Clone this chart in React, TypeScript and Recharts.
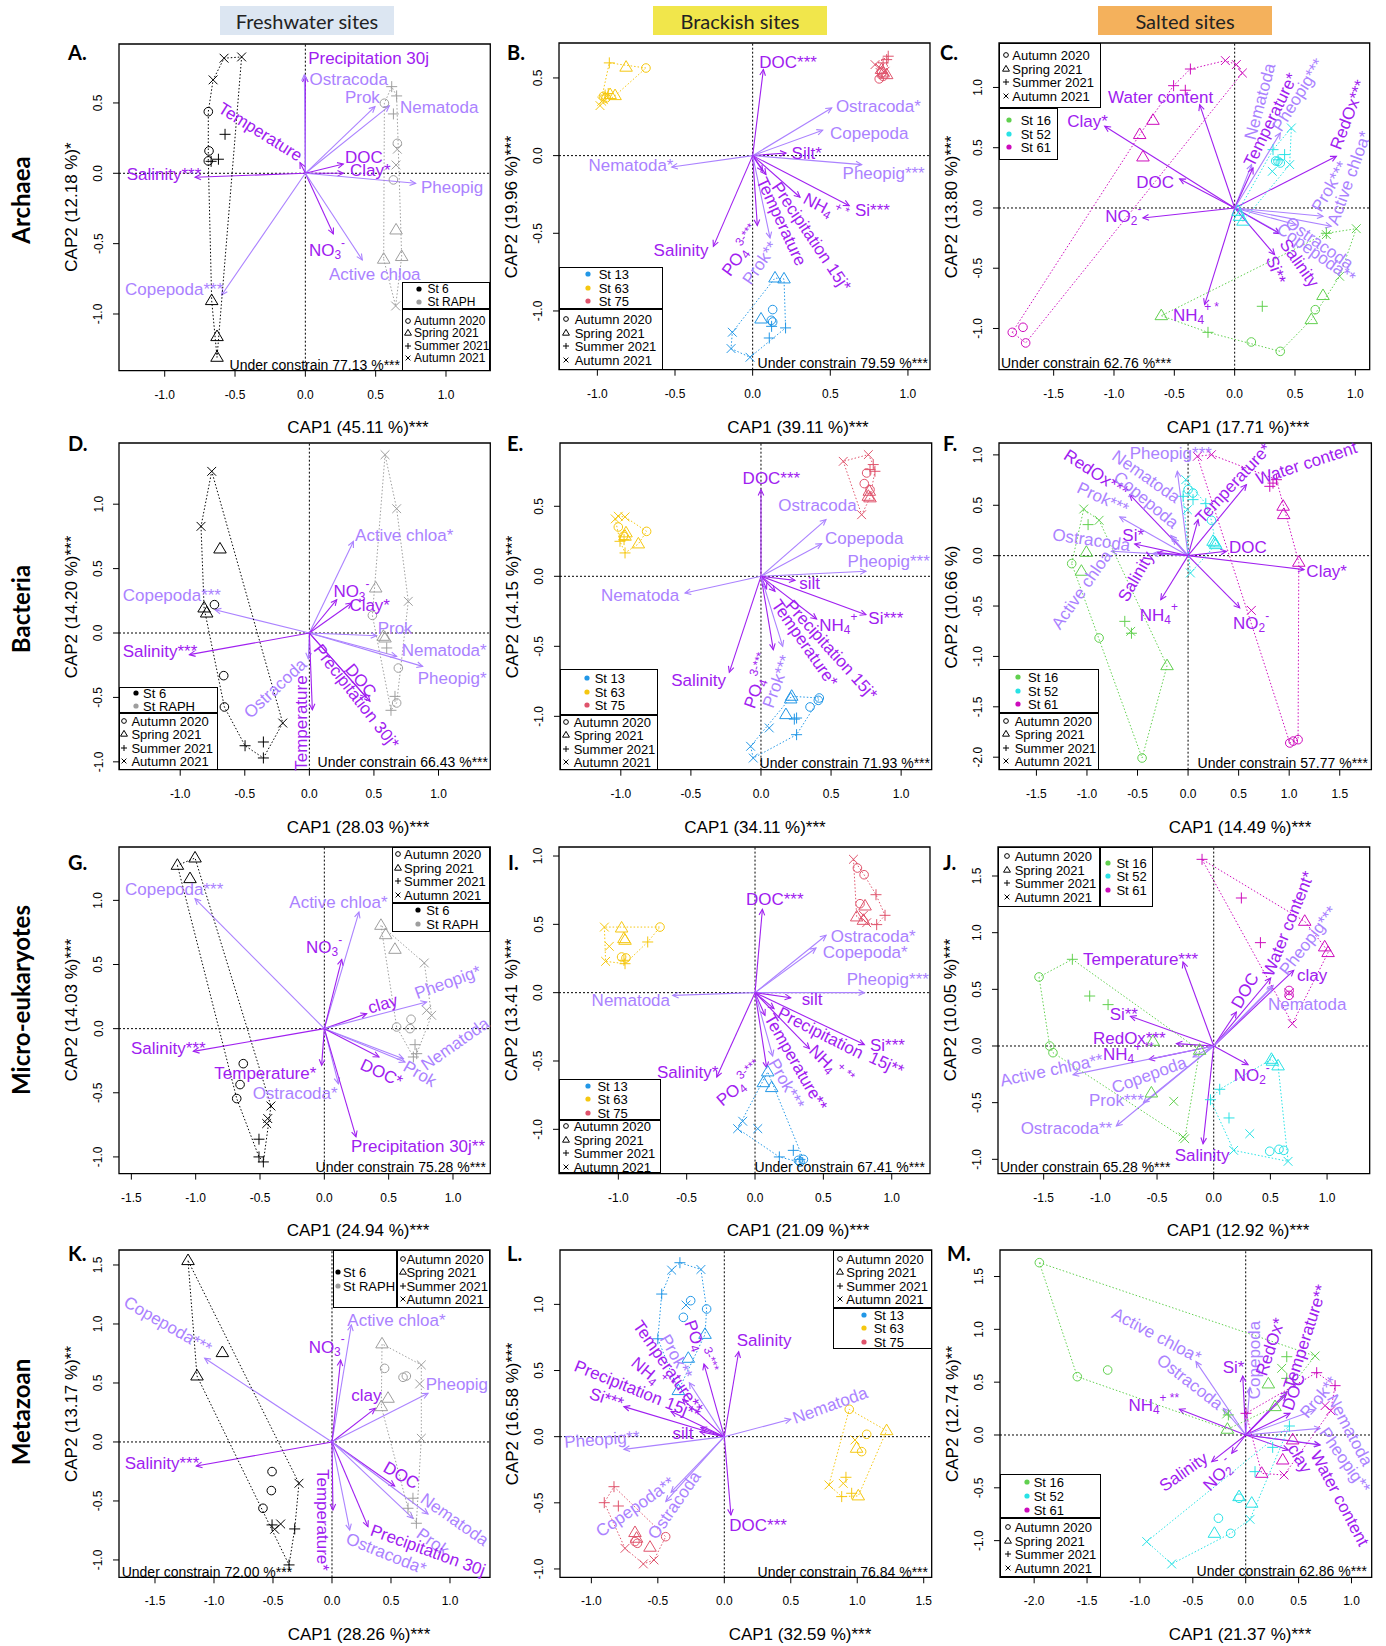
import React from 'react';
import { ScatterChart, Scatter, XAxis, YAxis, ReferenceLine, ReferenceDot, ReferenceArea } from 'recharts';

const FONT = '"Liberation Sans", Arial, Helvetica, sans-serif';
const DARK = '#A020F0';
const LIGHT = '#AB82FF';
const ST_COL: Record<string, string> = {
  '6': '#000000', RAPH: '#9E9E9E', '13': '#2297E6', '63': '#F5C710', '75': '#DF536B',
  '16': '#61D04F', '52': '#28E2E5', '61': '#CD0BBC',
};
const SEASONS = [['o', 'Autumn 2020'], ['t', 'Spring 2021'], ['p', 'Summer 2021'], ['x', 'Autumn 2021']];

// points: [CAP1, CAP2, station, season]  (o = autumn 2020, t = spring 2021, p = summer 2021, x = autumn 2021)
const aPoints = [
  [-0.578, 0.818, '6', 'x'], [-0.453, 0.827, '6', 'x'], [-0.656, 0.664, '6', 'x'],
  [-0.69, 0.438, '6', 'o'], [-0.685, 0.159, '6', 'o'], [-0.69, 0.088, '6', 'o'],
  [-0.571, 0.277, '6', 'p'], [-0.618, 0.1, '6', 'p'], [-0.67, 0.085, '6', 'p'],
  [-0.666, -0.905, '6', 't'], [-0.628, -1.161, '6', 't'], [-0.628, -1.308, '6', 't'],
  [0.614, 0.616, 'RAPH', 'p'], [0.649, 0.55, 'RAPH', 'p'], [0.626, 0.422, 'RAPH', 'p'],
  [0.562, 0.498, 'RAPH', 'o'], [0.654, 0.213, 'RAPH', 'o'], [0.626, -0.047, 'RAPH', 'o'],
  [0.654, 0.171, 'RAPH', 'x'], [0.645, 0.059, 'RAPH', 'x'], [0.642, -0.943, 'RAPH', 'x'],
  [0.645, -0.403, 'RAPH', 't'], [0.557, -0.611, 'RAPH', 't'], [0.685, -0.592, 'RAPH', 't'],
];
const aArrows = [
  [0, 0.69, 'd'], [-0.007, 0.7, 'l'], [0.495, 0.474, 'l'], [0.597, 0.479, 'l'], [-0.038, 0.076, 'd'],
  [0.27, 0.066, 'd'], [0.27, 0.0, 'd'], [0.784, -0.071, 'l'], [-0.784, -0.028, 'd'], [0.199, -0.431, 'd'],
  [0.405, -0.616, 'l'], [-0.595, -0.865, 'l'],
];
const aLabels = [
  ['Precipitation 30j', 0.02, 0.82, 0, 'd', 's'], ['Ostracoda', 0.03, 0.67, 0, 'l', 's'],
  ['Prok', 0.53, 0.54, 0, 'l', 'e'], ['Nematoda', 0.673, 0.47, 0, 'l', 's'],
  ['Temperature', -0.318, 0.296, 32, 'd', 'm'], ['DOC', 0.282, 0.118, 0, 'd', 's'],
  ['Clay*', 0.318, 0.024, 0, 'd', 's'], ['Pheopig', 0.822, -0.1, 0, 'l', 's'],
  ['Salinity***', -1.27, -0.005, 0, 'd', 's'], ['NO{3}[-]', 0.026, -0.545, 0, 'd', 's'],
  ['Active chloa', 0.168, -0.716, 0, 'l', 's'], ['Copepoda***', -1.282, -0.825, 0, 'l', 's'],
];

const bPoints = [
  [-0.923, 0.597, '63', 'p'], [-0.95, 0.39, '63', 'p'], [-0.93, 0.4, '63', 'p'],
  [-0.815, 0.569, '63', 't'], [-0.886, 0.386, '63', 't'], [-0.918, 0.393, '63', 't'],
  [-0.687, 0.564, '63', 'o'], [-0.961, 0.382, '63', 'o'], [-0.944, 0.371, '63', 'o'],
  [-0.983, 0.322, '63', 'x'], [-0.972, 0.35, '63', 'x'], [-0.961, 0.36, '63', 'x'],
  [0.873, 0.64, '75', 'p'], [0.863, 0.618, '75', 'p'], [0.84, 0.597, '75', 'p'],
  [0.788, 0.586, '75', 'x'], [0.82, 0.564, '75', 'x'], [0.852, 0.543, '75', 'x'],
  [0.84, 0.532, '75', 't'], [0.863, 0.521, '75', 't'], [0.83, 0.554, '75', 't'],
  [0.815, 0.494, '75', 'o'], [0.84, 0.51, '75', 'o'], [0.83, 0.532, '75', 'o'],
  [0.144, -0.788, '13', 't'], [0.202, -0.794, '13', 't'], [0.054, -1.052, '13', 't'],
  [0.129, -0.991, '13', 'o'], [0.129, -1.071, '13', 'o'], [0.12, -1.06, '13', 'o'],
  [0.122, -1.099, '13', 'p'], [0.212, -1.109, '13', 'p'], [0.107, -1.174, '13', 'p'],
  [-0.131, -1.137, '13', 'x'], [-0.139, -1.242, '13', 'x'], [-0.017, -1.298, '13', 'x'],
];
const bArrows = [
  [0.069, 0.554, 'd'], [0.509, 0.307, 'l'], [0.451, 0.163, 'l'], [0.215, 0.017, 'd'], [0.702, -0.058, 'l'],
  [-0.521, -0.073, 'l'], [0.622, -0.322, 'd'], [0.305, -0.268, 'd'], [0.086, -0.122, 'd'], [0.065, -0.1, 'd'],
  [0.03, -0.45, 'd'], [0.112, -0.53, 'l'], [-0.253, -0.584, 'd'],
];
const bLabels = [
  ['DOC***', 0.043, 0.6, 0, 'd', 's'], ['Ostracoda*', 0.536, 0.322, 0, 'l', 's'],
  ['Copepoda', 0.498, 0.146, 0, 'l', 's'], ['Silt*', 0.251, 0.017, 0, 'd', 's'],
  ['Pheopig***', 0.579, -0.112, 0, 'l', 's'], ['Nematoda*', -0.51, -0.06, 0, 'l', 'e'],
  ['Si***', 0.659, -0.348, 0, 'd', 's'], ['NH{4}[+ *]', 0.466, -0.337, 28, 'd', 'm'],
  ['Precipitation 15j*', 0.38, -0.52, 56, 'd', 'm'], ['Temperature', 0.187, -0.423, 65, 'd', 'm'],
  ['PO{4}[3-***]', -0.071, -0.616, -54, 'd', 'm'], ['Prok**', 0.047, -0.69, -55, 'l', 'm'],
  ['Salinity', -0.285, -0.605, 0, 'd', 'e'],
];

const cPoints = [
  [-0.077, 1.223, '61', 'x'], [0.014, 1.19, '61', 'x'], [0.064, 1.12, '61', 'x'],
  [-0.367, 1.153, '61', 'p'], [-0.506, 1.015, '61', 'p'], [-0.409, 0.977, '61', 'p'],
  [-0.677, 0.727, '61', 't'], [-0.787, 0.609, '61', 't'], [-0.76, 0.423, '61', 't'],
  [-1.843, -1.032, '61', 'o'], [-1.754, -0.99, '61', 'o'], [-1.732, -1.12, '61', 'o'],
  [0.47, 0.664, '52', 'x'], [0.312, 0.304, '52', 'x'], [0.456, 0.36, '52', 'x'],
  [0.318, 0.484, '52', 'p'], [0.414, 0.443, '52', 'p'], [0.36, 0.4, '52', 'p'],
  [0.359, 0.387, '52', 'o'], [0.378, 0.373, '52', 'o'], [0.34, 0.39, '52', 'o'],
  [0.069, -0.11, '52', 't'], [0.041, -0.07, '52', 't'], [0.028, -0.028, '52', 't'],
  [0.76, -0.221, '16', 'x'], [1.008, -0.172, '16', 'x'], [0.87, -0.567, '16', 'x'],
  [0.229, -0.816, '16', 'p'], [-0.221, -1.032, '16', 'p'], [0.76, -0.21, '16', 'p'],
  [0.668, -0.844, '16', 'o'], [0.138, -1.112, '16', 'o'], [0.378, -1.19, '16', 'o'],
  [0.732, -0.727, '16', 't'], [0.635, -0.927, '16', 't'], [-0.608, -0.894, '16', 't'],
];
const cArrows = [
  [-0.29, 0.857, 'd'], [-1.077, 0.678, 'd'], [-0.456, 0.241, 'd'], [-0.76, -0.083, 'd'], [-0.249, -0.802, 'd'],
  [0.14, 0.36, 'l'], [0.152, 0.332, 'd'], [0.378, 0.622, 'l'], [0.843, 0.429, 'd'], [0.732, -0.069, 'l'],
  [0.8, -0.152, 'l'], [0.51, -0.14, 'l'], [0.373, -0.207, 'l'], [0.373, -0.213, 'd'], [0.331, -0.387, 'd'],
];
const cLabels = [
  ['Water content', -1.049, 0.918, 0, 'd', 's'], ['Clay*', -1.387, 0.719, 0, 'd', 's'],
  ['DOC', -0.815, 0.213, 0, 'd', 's'], ['NO{2}[-]', -1.072, -0.069, 0, 'd', 's'],
  ['NH{4}[+ *]', -0.511, -0.885, 0, 'd', 's'], ['Nematoda', 0.207, 0.885, -75, 'l', 'm'],
  ['Temperature*', 0.296, 0.733, -64, 'd', 'm'], ['Pheopig***', 0.525, 0.94, -58, 'l', 'm'],
  ['RedOx***', 0.939, 0.775, -69, 'd', 'm'], ['Prok***', 0.787, 0.18, -60, 'l', 'm'],
  ['Active chloa*', 0.947, 0.249, -70, 'l', 'm'], ['Ostracoda', 0.704, -0.29, 35, 'l', 'm'],
  ['Copepoda**', 0.677, -0.373, 35, 'l', 'm'], ['Salinity', 0.539, -0.456, 55, 'd', 'm'],
  ['Si**', 0.345, -0.512, 70, 'd', 'm'],
];

const dPoints = [
  [-0.756, 1.255, '6', 'x'], [-0.839, 0.828, '6', 'x'], [-0.206, -0.699, '6', 'x'],
  [-0.692, 0.652, '6', 't'], [-0.815, 0.194, '6', 't'], [-0.795, 0.155, '6', 't'],
  [-0.735, 0.22, '6', 'o'], [-0.663, -0.331, '6', 'o'], [-0.658, -0.574, '6', 'o'],
  [-0.498, -0.875, '6', 'p'], [-0.356, -0.846, '6', 'p'], [-0.356, -0.97, '6', 'p'],
  [0.586, 1.384, 'RAPH', 'x'], [0.676, 0.965, 'RAPH', 'x'], [0.766, 0.246, 'RAPH', 'x'],
  [0.514, 0.349, 'RAPH', 't'], [0.573, -0.026, 'RAPH', 't'], [0.586, -0.039, 'RAPH', 't'],
  [0.488, 0.137, 'RAPH', 'o'], [0.689, -0.272, 'RAPH', 'o'], [0.676, -0.543, 'RAPH', 'o'],
  [0.599, -0.116, 'RAPH', 'p'], [0.663, -0.492, 'RAPH', 'p'], [0.632, -0.6, 'RAPH', 'p'],
];
const dArrows = [
  [0.341, 0.711, 'l'], [0.212, 0.259, 'd'], [0.328, 0.233, 'd'], [0.521, -0.021, 'l'], [0.676, -0.181, 'l'],
  [0.877, -0.259, 'l'], [-0.73, 0.181, 'l'], [-0.929, -0.168, 'd'], [-0.008, -0.2, 'l'], [0.023, -0.595, 'd'],
  [0.44, -0.5, 'd'], [0.47, -0.53, 'd'],
];
const dLabels = [
  ['Active chloa*', 0.354, 0.763, 0, 'l', 's'], ['NO{3}[-]', 0.186, 0.323, 0, 'd', 's'],
  ['Clay*', 0.31, 0.22, 0, 'd', 's'], ['Prok', 0.529, 0.039, 0, 'l', 's'],
  ['Nematoda*', 0.715, -0.129, 0, 'l', 's'], ['Pheopig*', 0.839, -0.349, 0, 'l', 's'],
  ['Copepoda***', -1.445, 0.292, 0, 'l', 's'], ['Salinity***', -1.445, -0.142, 0, 'd', 's'],
  ['Ostracoda', -0.266, -0.427, -43, 'l', 'm'], ['Temperature', -0.065, -0.699, -90, 'd', 'm'],
  ['DOC', 0.4, -0.367, 50, 'd', 'm'], ['Precipitation 30j*', 0.366, -0.492, 52, 'd', 'm'],
];

const ePoints = [
  [-1.018, 0.429, '63', 'x'], [-0.97, 0.424, '63', 'x'], [-1.04, 0.41, '63', 'x'],
  [-1.018, 0.352, '63', 'o'], [-0.816, 0.321, '63', 'o'], [-0.982, 0.286, '63', 'o'],
  [-0.963, 0.31, '63', 't'], [-0.97, 0.286, '63', 't'], [-0.875, 0.231, '63', 't'],
  [-0.977, 0.262, '63', 'p'], [-1.006, 0.25, '63', 'p'], [-0.97, 0.167, '63', 'p'],
  [0.587, 0.821, '75', 'x'], [0.766, 0.869, '75', 'x'], [0.718, 0.44, '75', 'x'],
  [0.801, 0.798, '75', 'p'], [0.813, 0.75, '75', 'p'], [0.778, 0.762, '75', 'p'],
  [0.754, 0.738, '75', 'o'], [0.737, 0.662, '75', 'o'], [0.778, 0.619, '75', 'o'],
  [0.773, 0.607, '75', 't'], [0.766, 0.571, '75', 't'], [0.778, 0.56, '75', 't'],
  [0.219, -0.857, '13', 't'], [0.212, -0.876, '13', 't'], [0.178, -0.988, '13', 't'],
  [0.416, -0.869, '13', 'o'], [0.409, -0.886, '13', 'o'], [0.35, -0.933, '13', 'o'],
  [0.254, -1.012, '13', 'p'], [0.254, -1.131, '13', 'p'], [0.238, -1.02, '13', 'p'],
  [0.059, -1.083, '13', 'x'], [-0.074, -1.214, '13', 'x'], [-0.055, -1.298, '13', 'x'],
];
const eArrows = [
  [0, 0.619, 'd'], [0.464, 0.405, 'l'], [0.433, 0.233, 'l'], [0.749, 0.036, 'l'], [0.243, -0.029, 'd'],
  [0.749, -0.274, 'd'], [0.397, -0.305, 'd'], [-0.542, -0.119, 'l'], [0.1, -0.107, 'd'], [0.04, -0.09, 'd'],
  [0.088, -0.524, 'd'], [0.155, -0.5, 'l'], [-0.226, -0.686, 'd'],
];
const eLabels = [
  ['DOC***', -0.131, 0.702, 0, 'd', 's'], ['Ostracoda', 0.124, 0.512, 0, 'l', 's'],
  ['Copepoda', 0.457, 0.274, 0, 'l', 's'], ['Pheopig***', 0.618, 0.107, 0, 'l', 's'],
  ['silt', 0.273, -0.048, 0, 'd', 's'], ['Si***', 0.766, -0.298, 0, 'd', 's'],
  ['NH{4}[+]', 0.416, -0.345, 0, 'd', 's'], ['Nematoda', -0.583, -0.131, 0, 'l', 'e'],
  ['Precipitation 15j*', 0.504, -0.524, 48, 'd', 'm'], ['Temperature*', 0.314, -0.476, 55, 'd', 'm'],
  ['PO{4}[3-***]', -0.019, -0.75, -70, 'd', 'm'], ['Prok***', 0.112, -0.75, -70, 'l', 'm'],
  ['Salinity', -0.25, -0.738, 0, 'd', 'e'],
];

const fPoints = [
  [0.092, 0.986, '61', 'x'], [0.231, 1.002, '61', 'x'], [0.626, -0.543, '61', 'x'],
  [0.808, 0.688, '61', 'p'], [0.874, 0.754, '61', 'p'], [0.84, 0.72, '61', 'p'],
  [0.94, 0.49, '61', 't'], [0.946, 0.407, '61', 't'], [1.095, -0.066, '61', 't'],
  [1.006, -1.859, '61', 'o'], [1.088, -1.826, '61', 'o'], [1.04, -1.84, '61', 'o'],
  [-0.023, 0.754, '52', 'x'], [-0.007, 0.456, '52', 'x'], [0.023, -0.172, '52', 'x'],
  [0, 0.655, '52', 'o'], [0.049, 0.622, '52', 'o'], [0.231, 0.351, '52', 'o'],
  [-0.049, 0.589, '52', 'p'], [0.049, 0.556, '52', 'p'], [0.175, 0.516, '52', 'p'],
  [0.264, 0.126, '52', 't'], [0.274, 0.109, '52', 't'], [0.247, 0.142, '52', 't'],
  [-1.032, 0.463, '16', 'x'], [-0.88, 0.351, '16', 'x'], [-0.567, -0.751, '16', 'x'],
  [-0.989, 0.308, '16', 'p'], [-0.626, -0.652, '16', 'p'], [-0.56, -0.77, '16', 'p'],
  [-1.006, 0.033, '16', 't'], [-1.055, -0.155, '16', 't'], [-0.208, -1.092, '16', 't'],
  [-1.151, -0.079, '16', 'o'], [-0.88, -0.817, '16', 'o'], [-0.455, -2.008, '16', 'o'],
];
const fArrows = [
  [-0.577, 0.605, 'd'], [-0.17, 0.2, 'l'], [-0.15, 0.17, 'l'], [-0.676, 0.384, 'l'], [-0.106, 0.837, 'l'],
  [-0.758, 0.043, 'l'], [-0.528, 0.116, 'd'], [-0.35, 0.02, 'l'], [-0.3, 0.03, 'd'], [-0.27, -0.437, 'd'],
  [0.577, 0.705, 'd'], [0.099, 0.357, 'd'], [0.379, 0.043, 'd'], [1.147, -0.139, 'd'], [0.511, -0.519, 'd'],
];
const fLabels = [
  ['RedOx***', -0.907, 0.82, 33, 'd', 'm'], ['Nematoda', -0.412, 0.787, 35, 'l', 'm'],
  ['Copepoda', -0.412, 0.556, 40, 'l', 'm'], ['Prok***', -0.841, 0.572, 25, 'l', 'm'],
  ['Pheopig***', -0.577, 1.019, 0, 'l', 's'], ['Ostracoda', -0.956, 0.159, 8, 'l', 'm'],
  ['Si*', -0.65, 0.208, 0, 'd', 's'], ['Active chloa', -1.055, -0.337, -55, 'l', 'm'],
  ['Salinity', -0.518, -0.205, -60, 'd', 'm'], ['NH{4}[+]', -0.478, -0.585, 0, 'd', 's'],
  ['Temperature*', 0.445, 0.721, -47, 'd', 'm'], ['Water content', 1.17, 0.92, -18, 'd', 'm'],
  ['DOC', 0.405, 0.086, 0, 'd', 's'], ['Clay*', 1.17, -0.155, 0, 'd', 's'],
  ['NO{2}[-]', 0.445, -0.668, 0, 'd', 's'],
];

const gPoints = [
  [-1.142, 1.273, '6', 't'], [-1.005, 1.33, '6', 't'], [-1.044, 1.169, '6', 't'],
  [-0.63, -0.273, '6', 'o'], [-0.655, -0.436, '6', 'o'], [-0.681, -0.545, '6', 'o'],
  [-0.415, -0.603, '6', 'x'], [-0.44, -0.701, '6', 'x'], [-0.448, -0.74, '6', 'x'],
  [-0.508, -0.862, '6', 'p'], [-0.508, -1.0, '6', 'p'], [-0.474, -1.039, '6', 'p'],
  [0.44, 0.805, 'RAPH', 't'], [0.477, 0.732, 'RAPH', 't'], [0.549, 0.618, 'RAPH', 't'],
  [0.777, 0.512, 'RAPH', 'x'], [0.795, 0.143, 'RAPH', 'x'], [0.834, 0.104, 'RAPH', 'x'],
  [0.674, 0.073, 'RAPH', 'o'], [0.562, 0.013, 'RAPH', 'o'], [0.666, 0, 'RAPH', 'o'],
  [0.705, -0.125, 'RAPH', 'p'], [0.718, -0.195, 'RAPH', 'p'], [0.692, -0.221, 'RAPH', 'p'],
];
const gArrows = [
  [-1.005, 1.013, 'l'], [0.269, 0.909, 'l'], [0.135, 0.54, 'd'], [0.329, 0.117, 'd'], [0.795, 0.208, 'l'],
  [0.627, -0.26, 'l'], [0.614, -0.234, 'l'], [0.425, -0.221, 'd'], [-1.018, -0.177, 'd'], [-0.021, -0.286, 'd'],
  [0.109, -0.429, 'l'], [0.246, -0.844, 'd'],
];
const gLabels = [
  ['Copepoda***', -1.549, 1.091, 0, 'l', 's'], ['Active chloa*', -0.272, 0.987, 0, 'l', 's'],
  ['NO{3}[-]', -0.142, 0.636, 0, 'd', 's'], ['clay', 0.453, 0.195, -17, 'd', 'm'],
  ['Pheopig*', 0.959, 0.364, -20, 'l', 'm'], ['Nematoda', 1.016, -0.117, -35, 'l', 'm'],
  ['Prok', 0.744, -0.351, 30, 'l', 'm'], ['DOC*', 0.446, -0.343, 25, 'd', 'm'],
  ['Salinity***', -1.503, -0.148, 0, 'd', 's'], ['Temperature*', -0.855, -0.343, 0, 'd', 's'],
  ['Ostracoda*', -0.557, -0.501, 0, 'l', 's'], ['Precipitation 30j**', 0.207, -0.914, 0, 'd', 's'],
];

const iPoints = [
  [-1.102, 0.48, '63', 'x'], [-1.066, 0.339, '63', 'x'], [-1.093, 0.229, '63', 'x'],
  [-0.976, 0.473, '63', 't'], [-0.959, 0.395, '63', 't'], [-0.951, 0.383, '63', 't'],
  [-0.695, 0.48, '63', 'o'], [-0.976, 0.261, '63', 'o'], [-0.944, 0.254, '63', 'o'],
  [-0.785, 0.371, '63', 'p'], [-0.959, 0.237, '63', 'p'], [-0.951, 0.212, '63', 'p'],
  [0.72, 0.976, '75', 'x'], [0.793, 0.566, '75', 'x'], [0.817, 0.512, '75', 'x'],
  [0.749, 0.912, '75', 'o'], [0.798, 0.863, '75', 'o'], [0.768, 0.651, '75', 'o'],
  [0.885, 0.717, '75', 'p'], [0.951, 0.566, '75', 'p'], [0.89, 0.498, '75', 'p'],
  [0.805, 0.634, '75', 't'], [0.744, 0.554, '75', 't'], [0.793, 0.529, '75', 't'],
  [0.093, -0.58, '13', 't'], [0.061, -0.659, '13', 't'], [0.122, -0.695, '13', 't'],
  [-0.09, -0.941, '13', 'x'], [-0.127, -0.995, '13', 'x'], [0.02, -0.995, '13', 'x'],
  [0.178, -1.202, '13', 'p'], [0.28, -1.154, '13', 'p'], [0.329, -1.22, '13', 'p'],
  [0.317, -1.227, '13', 'o'], [0.354, -1.22, '13', 'o'], [0.329, -1.24, '13', 'o'],
];
const iArrows = [
  [0.054, 0.61, 'd'], [0.52, 0.42, 'l'], [0.446, 0.327, 'l'], [0.8, 0, 'l'], [0.261, -0.037, 'd'],
  [-0.602, -0.02, 'l'], [0.8, -0.38, 'd'], [0.139, -0.117, 'd'], [0.398, -0.41, 'd'], [0.073, -0.166, 'd'],
  [0.129, -0.463, 'l'], [0.085, -0.549, 'd'], [-0.28, -0.617, 'd'],
];
const iLabels = [
  ['DOC***', -0.066, 0.688, 0, 'd', 's'], ['Ostracoda*', 0.554, 0.412, 0, 'l', 's'],
  ['Copepoda*', 0.495, 0.298, 0, 'l', 's'], ['Pheopig***', 0.671, 0.098, 0, 'l', 's'],
  ['silt', 0.341, -0.044, 0, 'd', 's'], ['Nematoda', -0.622, -0.056, 0, 'l', 'e'],
  ['Si***', 0.841, -0.38, 0, 'd', 's'], ['Precipitation', 0.48, -0.293, 27, 'd', 'm'],
  ['15j**', 0.963, -0.52, 25, 'd', 'm'], ['NH{4}[+ **]', 0.549, -0.532, 45, 'd', 'm'],
  ['Temperature**', 0.3, -0.507, 60, 'd', 'm'], ['Prok***', 0.232, -0.666, 60, 'l', 'm'],
  ['PO{4}[3-***]', -0.11, -0.673, -40, 'd', 'm'], ['Salinity*', -0.268, -0.58, 0, 'd', 'e'],
];

const jPoints = [
  [-0.103, 1.647, '61', 'p'], [0.244, 1.306, '61', 'p'], [0.412, 0.912, '61', 'p'],
  [0.803, 1.1, '61', 't'], [0.979, 0.874, '61', 't'], [1.009, 0.824, '61', 't'],
  [0.665, 0.49, '61', 'o'], [0.665, 0.447, '61', 'o'],
  [0.694, 0.197, '61', 'x'], [0.665, 0.47, '61', 'x'],
  [-1.247, 0.765, '16', 'p'], [-1.094, 0.441, '16', 'p'], [-0.932, 0.365, '16', 'p'],
  [-1.541, 0.609, '16', 'o'], [-1.447, 0, '16', 'o'], [-1.418, -0.059, '16', 'o'],
  [-0.535, 0.041, '16', 't'], [-0.55, -0.415, '16', 't'], [-0.124, -0.038, '16', 't'],
  [-0.353, -0.488, '16', 'x'], [-0.271, -0.803, '16', 'x'], [-0.256, -0.818, '16', 'x'],
  [0.509, -0.118, '52', 't'], [0.518, -0.135, '52', 't'], [0.568, -0.176, '52', 't'],
  [0.053, -0.382, '52', 'p'], [-0.029, -0.474, '52', 'p'], [0.135, -0.635, '52', 'p'],
  [0.318, -0.774, '52', 'x'], [0.176, -0.921, '52', 'x'], [0.656, -1.018, '52', 'x'],
  [0.494, -0.929, '52', 'o'], [0.576, -0.912, '52', 'o'], [0.618, -0.921, '52', 'o'],
];
const jArrows = [
  [-0.271, 0.741, 'd'], [-0.735, 0.262, 'd'], [-0.329, 0.021, 'd'], [-0.571, -0.118, 'd'], [-1.241, -0.253, 'l'],
  [-0.182, -0.097, 'l'], [-0.62, -0.5, 'l'], [-0.859, -0.706, 'l'], [-0.094, -0.862, 'd'], [0.303, -0.165, 'd'],
  [0.2, 0.3, 'd'], [0.503, 0.6, 'd'], [0.524, 0.535, 'l'], [0.706, 0.668, 'd'], [0.52, 0.52, 'l'],
];
const jLabels = [
  ['Temperature***', -1.153, 0.765, 0, 'd', 's'], ['Si**', -0.918, 0.279, 0, 'd', 's'],
  ['RedOx***', -1.065, 0.074, 0, 'd', 's'], ['NH{4}[+ **]', -0.976, -0.068, 0, 'd', 's'],
  ['Active chloa**', -1.432, -0.209, -12, 'l', 'm'], ['Copepoda', -0.571, -0.253, -20, 'l', 'm'],
  ['Prok***', -1.1, -0.479, 0, 'l', 's'], ['Ostracoda**', -1.703, -0.724, 0, 'l', 's'],
  ['Salinity', -0.344, -0.965, 0, 'd', 's'], ['NO{2}[-]', 0.176, -0.259, 0, 'd', 's'],
  ['DOC', 0.274, 0.491, -60, 'd', 'm'], ['Water content*', 0.656, 1.079, -68, 'd', 'm'],
  ['Pheopig***', 0.832, 0.932, -52, 'l', 'm'], ['clay', 0.735, 0.629, 0, 'd', 's'],
  ['Nematoda', 0.479, 0.374, 0, 'l', 's'],
];

const kPoints = [
  [-1.22, 1.537, '6', 't'], [-0.929, 0.757, '6', 't'], [-1.144, 0.559, '6', 't'],
  [-0.508, -0.251, '6', 'o'], [-0.514, -0.412, '6', 'o'], [-0.585, -0.562, '6', 'o'],
  [-0.28, -0.35, '6', 'x'], [-0.435, -0.695, '6', 'x'], [-0.486, -0.74, '6', 'x'],
  [-0.508, -0.703, '6', 'p'], [-0.316, -0.737, '6', 'p'], [-0.364, -1.042, '6', 'p'],
  [0.424, 0.831, 'RAPH', 't'], [0.475, 0.37, 'RAPH', 't'], [0.418, 0.299, 'RAPH', 't'],
  [0.446, 0.624, 'RAPH', 'o'], [0.602, 0.548, 'RAPH', 'o'], [0.63, 0.559, 'RAPH', 'o'],
  [0.757, 0.653, 'RAPH', 'x'], [0.743, 0.492, 'RAPH', 'x'], [0.757, 0.031, 'RAPH', 'x'],
  [0.686, -0.477, 'RAPH', 'p'], [0.644, -0.562, 'RAPH', 'p'], [0.715, -0.689, 'RAPH', 'p'],
];
const kArrows = [
  [-1.079, 0.709, 'l'], [0.164, 0.992, 'l'], [0.073, 0.695, 'd'], [0.367, 0.285, 'd'], [0.814, 0.412, 'l'],
  [-1.15, -0.203, 'd'], [0.531, -0.373, 'd'], [0.814, -0.61, 'l'], [0.686, -0.647, 'l'], [0.305, -0.718, 'd'],
  [0.15, -0.746, 'l'], [0.008, -0.576, 'd'],
];
const kLabels = [
  ['Copepoda***', -1.39, 0.992, 30, 'l', 'm'], ['Active chloa*', 0.13, 1.034, 0, 'l', 's'],
  ['NO{3}[-]', -0.198, 0.808, 0, 'd', 's'], ['clay', 0.164, 0.398, 0, 'd', 's'],
  ['Pheopig', 0.794, 0.492, 0, 'l', 's'], ['Salinity***', -1.757, -0.181, 0, 'd', 's'],
  ['DOC', 0.588, -0.28, 30, 'd', 'm'], ['Nematoda', 1.04, -0.655, 35, 'l', 'm'],
  ['Prok', 0.856, -0.845, 35, 'l', 'm'], ['Precipitation 30j', 0.814, -0.915, 20, 'd', 'm'],
  ['Ostracoda*', 0.46, -0.944, 22, 'l', 'm'], ['Temperature*', -0.076, -0.661, 90, 'd', 'm'],
];

const lPoints = [
  [-0.334, 1.315, '13', 'p'], [-0.471, 1.078, '13', 'p'], [-0.5, 0.74, '13', 'p'],
  [-0.396, 1.259, '13', 'x'], [-0.176, 1.264, '13', 'x'], [-0.288, 0.995, '13', 'x'],
  [-0.253, 1.028, '13', 'o'], [-0.133, 0.965, '13', 'o'], [-0.308, 0.902, '13', 'o'],
  [-0.145, 0.773, '13', 't'], [-0.271, 0.592, '13', 't'], [-0.346, 0.348, '13', 't'],
  [0.94, 0.207, '63', 'o'], [1.071, 0.018, '63', 'o'], [1.033, -0.113, '63', 'o'],
  [1.221, 0.045, '63', 't'], [0.995, -0.088, '63', 't'], [1.008, -0.448, '63', 't'],
  [0.983, -0.025, '63', 'x'], [0.787, -0.365, '63', 'x'], [0.895, -0.353, '63', 'x'],
  [0.915, -0.307, '63', 'p'], [0.883, -0.453, '63', 'p'], [0.958, -0.428, '63', 'p'],
  [-0.83, -0.378, '75', 'p'], [-0.903, -0.499, '75', 'p'], [-0.797, -0.524, '75', 'p'],
  [-0.672, -0.725, '75', 't'], [-0.66, -0.768, '75', 't'], [-0.559, -0.836, '75', 't'],
  [-0.441, -0.756, '75', 'o'], [-0.654, -0.806, '75', 'o'], [-0.672, -0.793, '75', 'o'],
  [-0.747, -0.844, '75', 'x'], [-0.609, -0.962, '75', 'x'], [-0.529, -0.932, '75', 'x'],
];
const lArrows = [
  [0.108, 0.642, 'd'], [0.499, 0.131, 'l'], [0.05, -0.592, 'd'], [-0.755, -0.096, 'l'], [-0.183, 0.038, 'd'],
  [-0.755, 0.227, 'd'], [-0.4, 0.19, 'd'], [-0.313, 0.282, 'd'], [-0.176, 0.07, 'd'], [-0.263, 0.408, 'l'],
  [-0.153, 0.549, 'd'], [-0.4, -0.42, 'l'], [-0.44, -0.49, 'l'],
];
const lLabels = [
  ['Salinity', 0.093, 0.73, 0, 'd', 's'], ['Nematoda', 0.795, 0.239, -20, 'l', 'm'],
  ['DOC***', 0.038, -0.668, 0, 'd', 's'], ['Pheopig**', -1.204, -0.038, -4, 'l', 's'],
  ['silt', -0.389, 0.025, 0, 'd', 's'], ['Precipitation 15j**', -0.654, 0.353, 22, 'd', 'm'],
  ['Si***', -0.885, 0.29, 18, 'd', 'm'], ['NH{4}[+ *]', -0.547, 0.466, 40, 'd', 'm'],
  ['Temperature**', -0.421, 0.529, 55, 'd', 'm'], ['Prok**', -0.359, 0.605, 60, 'l', 'm'],
  ['PO{4}[3-***]', -0.188, 0.68, 70, 'd', 'm'], ['Copepoda**', -0.672, -0.529, -35, 'l', 'm'],
  ['Ostracoda', -0.379, -0.516, -55, 'l', 'm'],
];

const mPoints = [
  [-1.951, 1.631, '16', 'o'], [-1.592, 0.552, '16', 'o'], [-1.305, 0.615, '16', 'o'],
  [0.214, 0.483, '16', 't'], [0.277, 0.268, '16', 't'], [-0.173, 0.054, '16', 't'],
  [0.388, 0.741, '16', 'p'], [0.388, 0.536, '16', 'p'], [-0.164, 0.19, '16', 'p'],
  [0.656, 0.748, '16', 'x'], [0.34, 0.631, '16', 'x'], [-0.18, 0.199, '16', 'x'],
  [0.671, 0.59, '61', 'p'], [0.845, 0.467, '61', 'p'], [0.003, 0.205, '61', 'p'],
  [0.75, 0.278, '61', 'x'], [0.804, 0.23, '61', 'x'], [0.362, -0.379, '61', 'x'],
  [0.444, -0.047, '61', 't'], [0.35, -0.237, '61', 't'], [0.151, -0.363, '61', 't'],
  [0.413, 0.085, '52', 'p'], [0.255, -0.117, '52', 'p'], [0.088, -0.347, '52', 'p'],
  [-0.063, -0.584, '52', 't'], [0.057, -0.646, '52', 't'], [-0.296, -0.931, '52', 't'],
  [-0.063, -0.599, '52', 'o'], [-0.258, -0.788, '52', 'o'], [-0.142, -0.931, '52', 'o'],
  [0.041, -0.798, '52', 'x'], [-0.936, -1.009, '52', 'x'], [-0.7, -1.221, '52', 'x'],
];
const mArrows = [
  [-0.47, 0.694, 'l'], [-0.211, 0.252, 'l'], [-0.627, 0.243, 'd'], [-0.028, 0.558, 'd'], [0.04, 0.45, 'l'],
  [0.38, 0.38, 'd'], [0.39, 0.41, 'd'], [0.419, 0.205, 'd'], [0.656, 0.237, 'l'], [0.703, 0.063, 'l'],
  [0.7, -0.09, 'l'], [0.703, -0.095, 'd'], [0.403, -0.142, 'd'], [-0.321, -0.252, 'd'], [-0.132, -0.173, 'd'],
];
const mLabels = [
  ['Active chloa*', -0.841, 0.946, 28, 'l', 'm'], ['Ostracoda', -0.526, 0.505, 38, 'l', 'm'],
  ['NH{4}[+ **]', -1.109, 0.284, 0, 'd', 's'], ['Si*', -0.217, 0.647, 0, 'd', 's'],
  ['Copepoda', 0.079, 0.71, -90, 'l', 'm'], ['RedOx*', 0.23, 0.836, -72, 'd', 'm'],
  ['Temperature**', 0.561, 0.93, -72, 'd', 'm'], ['DOC', 0.451, 0.41, -70, 'd', 'm'],
  ['Prok**', 0.69, 0.36, -50, 'l', 'm'], ['Nematoda', 0.987, 0.047, 62, 'l', 'm'],
  ['Pheopig**', 0.939, -0.237, 55, 'l', 'm'], ['Water content', 0.892, -0.599, 62, 'd', 'm'],
  ['clay', 0.514, -0.221, 60, 'd', 'm'], ['Salinity', -0.589, -0.347, -35, 'd', 'm'],
  ['NO{2}[-]', -0.258, -0.379, -45, 'd', 'm'],
];

const panels = [
  { id: 'A', box: [119, 44, 371.3, 326.7], xd: [-1.325, 1.315], yd: [-1.403, 0.919], xt: [-1, -0.5, 0, 0.5, 1], yt: [-1, -0.5, 0, 0.5],
    pts: aPoints, arrows: aArrows, labels: aLabels, xlab: 'CAP1 (45.11 %)***', ylab: 'CAP2 (12.18 %)*', xlabX: 358, letter: [68, 52],
    uc: [400, 365, 'end', 'Under constrain 77.13 %***'], lfs: 12,
    legends: [{ x: 401.7, y: 282.3, w: 88.6, h: 27, st: ['6', 'RAPH'], sx: 16, tx: 26 }, { x: 401.7, y: 309.3, w: 88.6, h: 61.4, sx: 5, tx: 12.7 }] },
  { id: 'B', box: [559, 43.3, 371, 326.7], xd: [-1.247, 1.142], yd: [-1.378, 0.725], xt: [-1, -0.5, 0, 0.5, 1], yt: [-1, -0.5, 0, 0.5],
    pts: bPoints, arrows: bArrows, labels: bLabels, xlab: 'CAP1 (39.11 %)***', ylab: 'CAP2 (19.96 %)***', xlabX: 798, letter: [507, 52],
    uc: [928, 363, 'end', 'Under constrain 79.59 %***'], lfs: 13,
    legends: [{ x: 559, y: 266.7, w: 103.7, h: 42.6, st: ['13', '63', '75'], sx: 28, tx: 40 }, { x: 559, y: 309.3, w: 103.7, h: 60.7, sx: 6, tx: 16 }] },
  { id: 'C', box: [999.3, 43.3, 370.7, 326.7], xd: [-1.953, 1.119], yd: [-1.342, 1.369], xt: [-1.5, -1, -0.5, 0, 0.5, 1], yt: [-1, -0.5, 0, 0.5, 1],
    pts: cPoints, arrows: cArrows, labels: cLabels, xlab: 'CAP1 (17.71 %)***', ylab: 'CAP2 (13.80 %)***', xlabX: 1238, letter: [940, 52],
    uc: [1001, 363, 'start', 'Under constrain 62.76 %***'], lfs: 13,
    legends: [{ x: 999.3, y: 43.3, w: 101.7, h: 65, sx: 5.7, tx: 13.3 }, { x: 999.3, y: 108.3, w: 59, h: 51.7, st: ['16', '52', '61'], sx: 9, tx: 21.7 }] },
  { id: 'D', box: [119, 443.3, 371.3, 326.7], xd: [-1.474, 1.401], yd: [-1.061, 1.475], xt: [-1, -0.5, 0, 0.5, 1], yt: [-1, -0.5, 0, 0.5, 1],
    pts: dPoints, arrows: dArrows, labels: dLabels, xlab: 'CAP1 (28.03 %)***', ylab: 'CAP2 (14.20 %)***', xlabX: 358, letter: [68, 443],
    uc: [488, 762, 'end', 'Under constrain 66.43 %***'], lfs: 13,
    legends: [{ x: 119, y: 687.3, w: 98.7, h: 25.4, st: ['6', 'RAPH'], sx: 16, tx: 24.3 }, { x: 119, y: 712.7, w: 98.7, h: 57.3, sx: 4.3, tx: 12.7 }] },
  { id: 'E', box: [560, 443.3, 371.7, 326.7], xd: [-1.434, 1.218], yd: [-1.381, 0.952], xt: [-1, -0.5, 0, 0.5, 1], yt: [-1, -0.5, 0, 0.5],
    pts: ePoints, arrows: eArrows, labels: eLabels, xlab: 'CAP1 (34.11 %)***', ylab: 'CAP2 (14.15 %)***', xlabX: 755, letter: [507, 443],
    uc: [930, 763, 'end', 'Under constrain 71.93 %***'], lfs: 13,
    legends: [{ x: 560, y: 669.3, w: 98.3, h: 45.7, st: ['13', '63', '75'], sx: 26, tx: 35 }, { x: 560, y: 715, w: 98.3, h: 55, sx: 5, tx: 14 }] },
  { id: 'F', box: [999.3, 443.3, 372.4, 326.7], xd: [-1.87, 1.813], yd: [-2.124, 1.118], xt: [-1.5, -1, -0.5, 0, 0.5, 1, 1.5], yt: [-2, -1.5, -1, -0.5, 0, 0.5, 1],
    pts: fPoints, arrows: fArrows, labels: fLabels, xlab: 'CAP1 (14.49 %)***', ylab: 'CAP2 (10.66 %)', xlabX: 1240, letter: [943, 443],
    uc: [1368, 763, 'end', 'Under constrain 57.77 %***'], lfs: 13,
    legends: [{ x: 999.3, y: 669.3, w: 100, h: 43.4, st: ['16', '52', '61'], sx: 18, tx: 29 }, { x: 999.3, y: 712.7, w: 100, h: 57.3, sx: 5.7, tx: 15.7 }] },
  { id: 'G', box: [119, 846.7, 371.3, 326.6], xd: [-1.596, 1.29], yd: [-1.13, 1.416], xt: [-1.5, -1, -0.5, 0, 0.5, 1], yt: [-1, -0.5, 0, 0.5, 1],
    pts: gPoints, arrows: gArrows, labels: gLabels, xlab: 'CAP1 (24.94 %)***', ylab: 'CAP2 (14.03 %)***', xlabX: 358, letter: [68, 862],
    uc: [486, 1167, 'end', 'Under constrain 75.28 %***'], lfs: 13,
    legends: [{ x: 392.3, y: 846.7, w: 98, h: 56.6, sx: 4.3, tx: 12 }, { x: 392.3, y: 903.3, w: 98, h: 28.4, st: ['6', 'RAPH'], sx: 24.3, tx: 34.3 }] },
  { id: 'I', box: [559, 846.7, 371, 326.6], xd: [-1.434, 1.28], yd: [-1.324, 1.066], xt: [-1, -0.5, 0, 0.5, 1], yt: [-1, -0.5, 0, 0.5, 1],
    pts: iPoints, arrows: iArrows, labels: iLabels, xlab: 'CAP1 (21.09 %)***', ylab: 'CAP2 (13.41 %)***', xlabX: 798, letter: [508, 862],
    uc: [925, 1167, 'end', 'Under constrain 67.41 %***'], lfs: 13,
    legends: [{ x: 559, y: 1079.3, w: 102, h: 40.7, st: ['13', '63', '75'], sx: 28, tx: 38.7 }, { x: 559, y: 1120, w: 102, h: 53.3, sx: 6, tx: 15 }] },
  { id: 'J', box: [998.3, 846.7, 371.7, 326.6], xd: [-1.903, 1.376], yd: [-1.126, 1.756], xt: [-1.5, -1, -0.5, 0, 0.5, 1], yt: [-1, -0.5, 0, 0.5, 1, 1.5],
    pts: jPoints, arrows: jArrows, labels: jLabels, xlab: 'CAP1 (12.92 %)***', ylab: 'CAP2 (10.05 %)***', xlabX: 1238, letter: [943, 862],
    uc: [1000, 1167, 'start', 'Under constrain 65.28 %***'], lfs: 13,
    legends: [{ x: 998.3, y: 846.7, w: 101.7, h: 60, sx: 7.7, tx: 16.7 }, { x: 1100, y: 846.7, w: 53.3, h: 60, st: ['16', '52', '61'], sx: 7.3, tx: 16.7 }] },
  { id: 'K', box: [119.3, 1250, 371, 327.3], xd: [-1.805, 1.339], yd: [-1.147, 1.627], xt: [-1.5, -1, -0.5, 0, 0.5, 1], yt: [-1, -0.5, 0, 0.5, 1, 1.5],
    pts: kPoints, arrows: kArrows, labels: kLabels, xlab: 'CAP1 (28.26 %)***', ylab: 'CAP2 (13.17 %)**', xlabX: 359, letter: [68, 1253],
    uc: [121.7, 1572, 'start', 'Under constrain 72.00 %***'], lfs: 13,
    legends: [{ x: 332.7, y: 1250, w: 64, h: 58.3, st: ['6', 'RAPH'], sx: 4, tx: 10.7 }, { x: 396.7, y: 1250, w: 93.6, h: 58.3, sx: 5, tx: 10 }] },
  { id: 'L', box: [560, 1250, 371.7, 327.3], xd: [-1.236, 1.56], yd: [-1.063, 1.411], xt: [-1, -0.5, 0, 0.5, 1, 1.5], yt: [-1, -0.5, 0, 0.5, 1],
    pts: lPoints, arrows: lArrows, labels: lLabels, xlab: 'CAP1 (32.59 %)***', ylab: 'CAP2 (16.58 %)***', xlabX: 800, letter: [507, 1253],
    uc: [928, 1572, 'end', 'Under constrain 76.84 %***'], lfs: 13,
    legends: [{ x: 833.3, y: 1250, w: 98.4, h: 58.3, sx: 6, tx: 13.3 }, { x: 833.3, y: 1308.3, w: 98.4, h: 40.7, st: ['13', '63', '75'], sx: 30, tx: 40.7 }] },
  { id: 'M', box: [1000, 1250, 371.7, 327.3], xd: [-2.323, 1.191], yd: [-1.347, 1.751], xt: [-2, -1.5, -1, -0.5, 0, 0.5, 1], yt: [-1, -0.5, 0, 0.5, 1, 1.5],
    pts: mPoints, arrows: mArrows, labels: mLabels, xlab: 'CAP1 (21.37 %)***', ylab: 'CAP2 (12.74 %)**', xlabX: 1240, letter: [947, 1253],
    uc: [1367, 1571, 'end', 'Under constrain 62.86 %***'], lfs: 13,
    legends: [{ x: 1000, y: 1474.3, w: 100.7, h: 44, st: ['16', '52', '61'], sx: 26, tx: 34 }, { x: 1000, y: 1518.3, w: 100.7, h: 59, sx: 6.7, tx: 15 }] },
];

const headers = [
  { t: 'Freshwater sites', x: 220, w: 174, bg: '#DCE6F2' },
  { t: 'Brackish sites', x: 653, w: 174, bg: '#F1E64B' },
  { t: 'Salted sites', x: 1098, w: 174, bg: '#F4B15C' },
];
const rows = [
  { t: 'Archaea', y: 200 }, { t: 'Bacteria', y: 609 }, { t: 'Micro-eukaryotes', y: 1000 }, { t: 'Metazoan', y: 1412 },
];

function hull(ps: any[]) {
  const p = [...ps].sort((a, b) => a.x - b.x || a.y - b.y);
  const cr = (o: any, a: any, b: any) => (a.x - o.x) * (b.y - o.y) - (a.y - o.y) * (b.x - o.x);
  const lo: any[] = [];
  for (const q of p) { while (lo.length >= 2 && cr(lo[lo.length - 2], lo[lo.length - 1], q) <= 0) lo.pop(); lo.push(q); }
  const up: any[] = [];
  for (const q of [...p].reverse()) { while (up.length >= 2 && cr(up[up.length - 2], up[up.length - 1], q) <= 0) up.pop(); up.push(q); }
  lo.pop(); up.pop();
  const h = lo.concat(up);
  return [...h, h[0]];
}

function Sym({ cx, cy, s, c, k = 1 }: any) {
  const sw = 1;
  if (s === 'o') return <circle cx={cx} cy={cy} r={4.3 * k} fill="none" stroke={c} strokeWidth={sw} />;
  if (s === 't') {
    const r = 6.6 * k;
    return <polygon points={`${cx},${cy - r} ${cx - r * 0.95},${cy + r * 0.6} ${cx + r * 0.95},${cy + r * 0.6}`} fill="none" stroke={c} strokeWidth={sw} />;
  }
  if (s === 'p') {
    const r = 5.5 * k;
    return <path d={`M${cx - r},${cy}H${cx + r}M${cx},${cy - r}V${cy + r}`} stroke={c} strokeWidth={sw} fill="none" />;
  }
  const r = 4.4 * k;
  return <path d={`M${cx - r},${cy - r}L${cx + r},${cy + r}M${cx - r},${cy + r}L${cx + r},${cy - r}`} stroke={c} strokeWidth={sw} fill="none" />;
}

function rich(t: string, fs: number) {
  const out: any[] = [];
  const re = /\{([^}]*)\}|\[([^\]]*)\]|([^{[]+)/g;
  let m: any;
  let cur = 0;
  let i = 0;
  while ((m = re.exec(t))) {
    let target = 0;
    let txt = m[3];
    let size = fs;
    if (m[1] !== undefined) { target = fs * 0.3; txt = m[1]; size = fs * 0.7; }
    else if (m[2] !== undefined) { target = -fs * 0.42; txt = m[2]; size = fs * 0.7; }
    out.push(<tspan key={i++} dy={target - cur} fontSize={size}>{txt}</tspan>);
    cur = target;
  }
  return out;
}

const arrowShape = (c: string) => (p: any) => {
  const { x1, y1, x2, y2 } = p;
  const ang = Math.atan2(y2 - y1, x2 - x1);
  const L = 6.5;
  const a = 0.45;
  const hx1 = x2 - L * Math.cos(ang - a);
  const hy1 = y2 - L * Math.sin(ang - a);
  const hx2 = x2 - L * Math.cos(ang + a);
  const hy2 = y2 - L * Math.sin(ang + a);
  return (
    <g>
      <line x1={x1} y1={y1} x2={x2} y2={y2} stroke={c} strokeWidth={1.1} />
      <path d={`M${hx1},${hy1}L${x2},${y2}L${hx2},${hy2}`} fill="none" stroke={c} strokeWidth={1.1} />
    </g>
  );
};

const ANCH: Record<string, string> = { s: 'start', m: 'middle', e: 'end' };
const labelShape = (l: any[]) => (p: any) => (
  <text x={p.cx} y={p.cy} fill={l[4] === 'd' ? DARK : LIGHT} fontSize={17} fontFamily={FONT}
    textAnchor={ANCH[l[5]] as any} dominantBaseline="central"
    transform={l[3] ? `rotate(${l[3]} ${p.cx} ${p.cy})` : undefined}>
    {rich(l[0], 17)}
  </text>
);

const fmt = (v: number) => v.toFixed(1);

function Legend({ lg, fs }: any) {
  const items = lg.st ? lg.st.map((s: string) => ['st', s]) : SEASONS.map((s) => ['se', s[0], s[1]]);
  const rowH = fs * 1.04;
  const off = (lg.h - items.length * rowH) / 2 + rowH / 2;
  return (
    <div style={{ position: 'absolute', left: lg.x, top: lg.y, width: lg.w, height: lg.h, border: '1.3px solid #000', boxSizing: 'border-box', background: 'transparent' }}>
      {items.map((it: any, i: number) => {
        const cy = off + i * rowH - 1.3;
        return (
          <React.Fragment key={i}>
            <svg width={10} height={10} style={{ position: 'absolute', left: lg.sx - 5, top: cy - 5 }}>
              {it[0] === 'st'
                ? <circle cx={5} cy={5} r={2.6} fill={ST_COL[it[1]]} />
                : <Sym cx={5} cy={5} s={it[1]} c="#000" k={0.55} />}
            </svg>
            <div style={{ position: 'absolute', left: lg.tx - 1.3, top: cy, transform: 'translateY(-50%)', fontSize: fs, lineHeight: 1, whiteSpace: 'nowrap', fontFamily: FONT }}>
              {it[0] === 'st' ? `St ${it[1]}` : it[2]}
            </div>
          </React.Fragment>
        );
      })}
    </div>
  );
}

function Panel({ cfg }: any) {
  const [L, T, W, H] = cfg.box;
  const stations: string[] = [];
  cfg.pts.forEach((p: any) => { if (!stations.includes(p[2])) stations.push(p[2]); });
  const groups = stations.map((st) => ({
    st,
    pts: cfg.pts.filter((p: any) => p[2] === st).map((p: any) => ({ x: p[0], y: p[1], s: p[3] })),
  }));
  const xTick = (p: any) => (
    <text x={p.x} y={p.y + 16} textAnchor="middle" dominantBaseline="central" fontSize={12} fontFamily={FONT} fill="#000">
      {fmt(p.payload.value)}
    </text>
  );
  const yTick = (p: any) => (
    <text x={p.x - 12.5} y={p.y} textAnchor="middle" dominantBaseline="central" fontSize={12} fontFamily={FONT} fill="#000"
      transform={`rotate(-90 ${p.x - 12.5} ${p.y})`}>
      {fmt(p.payload.value)}
    </text>
  );
  return (
    <>
      <div style={{ position: 'absolute', left: L - 55, top: T - 5 }}>
        <ScatterChart width={W + 60} height={H + 40} margin={{ top: 5, right: 5, bottom: 0, left: 0 }}>
          <XAxis type="number" dataKey="x" domain={cfg.xd} ticks={cfg.xt} allowDataOverflow interval={0}
            axisLine={false} tickLine={{ stroke: '#000' }} tickSize={6} tickMargin={2} tick={xTick} height={35} />
          <YAxis type="number" dataKey="y" domain={cfg.yd} ticks={cfg.yt} allowDataOverflow interval={0}
            axisLine={false} tickLine={{ stroke: '#000' }} tickSize={6} tickMargin={2} tick={yTick} width={55} />
          <ReferenceArea x1={cfg.xd[0]} x2={cfg.xd[1]} y1={cfg.yd[0]} y2={cfg.yd[1]} fill="none" fillOpacity={0}
            stroke="#000" strokeWidth={1.3} ifOverflow="visible" />
          <ReferenceLine x={0} stroke="#000" strokeDasharray="2 2" strokeWidth={1} />
          <ReferenceLine y={0} stroke="#000" strokeDasharray="2 2" strokeWidth={1} />
          {groups.map((g) => (
            <Scatter key={'h' + g.st} data={hull(g.pts)} isAnimationActive={false} lineType="joint"
              line={{ stroke: ST_COL[g.st], strokeWidth: 1, strokeDasharray: '1.5 2' }} shape={() => <g />} />
          ))}
          {groups.map((g) => (
            <Scatter key={'p' + g.st} data={g.pts} isAnimationActive={false}
              shape={(p: any) => <Sym cx={p.cx} cy={p.cy} s={(p.payload && p.payload.s) || p.s} c={ST_COL[g.st]} />} />
          ))}
          {cfg.arrows.map((a: any, i: number) => (
            <ReferenceLine key={'a' + i} segment={[{ x: 0, y: 0 }, { x: a[0], y: a[1] }]} ifOverflow="visible"
              shape={arrowShape(a[2] === 'd' ? DARK : LIGHT)} />
          ))}
          {cfg.labels.map((l: any, i: number) => (
            <ReferenceDot key={'l' + i} x={l[1]} y={l[2]} r={0} ifOverflow="visible" shape={labelShape(l)} />
          ))}
        </ScatterChart>
      </div>
      <div style={{ position: 'absolute', left: cfg.letter[0], top: cfg.letter[1], transform: 'translateY(-50%)', fontFamily: 'Lato, "Open Sans", sans-serif', fontWeight: 700, fontSize: 20, lineHeight: 1 }}>
        {cfg.id}.
      </div>
      <div style={{ position: 'absolute', left: cfg.xlabX, top: T + H + 56.5, transform: 'translate(-50%,-50%)', fontSize: 17, whiteSpace: 'nowrap', lineHeight: 1 }}>
        {cfg.xlab}
      </div>
      <div style={{ position: 'absolute', left: L - 48.5, top: T + H / 2, transform: 'translate(-50%,-50%) rotate(-90deg)', fontSize: 17, whiteSpace: 'nowrap', lineHeight: 1 }}>
        {cfg.ylab}
      </div>
      <div style={{ position: 'absolute', left: cfg.uc[0], top: cfg.uc[1], transform: `translate(${cfg.uc[2] === 'end' ? '-100%' : '0'},-50%)`, fontSize: 14, whiteSpace: 'nowrap', lineHeight: 1 }}>
        {cfg.uc[3]}
      </div>
      {cfg.legends.map((lg: any, i: number) => <Legend key={i} lg={lg} fs={cfg.lfs} />)}
    </>
  );
}

export default function App() {
  return (
    <div style={{ position: 'absolute', left: 0, top: 0, width: 1386, height: 1646, background: '#fff', fontFamily: FONT, overflow: 'hidden', color: '#000' }}>
      {headers.map((h) => (
        <div key={h.t} style={{ position: 'absolute', left: h.x, top: 6, width: h.w, height: 29, background: h.bg, display: 'flex', alignItems: 'center', justifyContent: 'center', fontFamily: 'Lato, "Open Sans", sans-serif', fontSize: 20, color: '#222' }}>
          {h.t}
        </div>
      ))}
      {rows.map((r) => (
        <div key={r.t} style={{ position: 'absolute', left: 21, top: r.y, transform: 'translate(-50%,-50%) rotate(-90deg)', fontFamily: 'Lato, "Open Sans", sans-serif', fontWeight: 700, fontSize: 24, whiteSpace: 'nowrap', lineHeight: 1 }}>
          {r.t}
        </div>
      ))}
      {panels.map((p) => <Panel key={p.id} cfg={p} />)}
    </div>
  );
}
